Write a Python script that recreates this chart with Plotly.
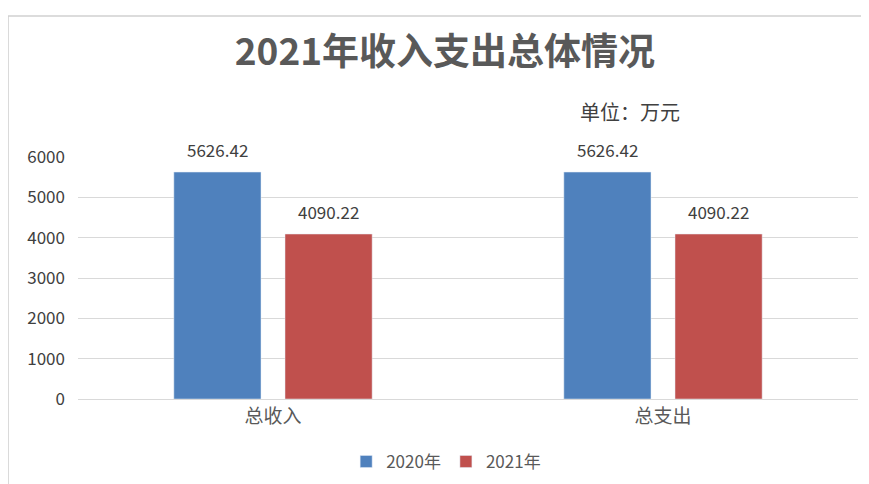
import plotly.graph_objects as go

categories = ["总收入", "总支出"]
series_names = ["2020年", "2021年"]
values_2020 = [5626.42, 5626.42]
values_2021 = [4090.22, 4090.22]
tick_vals = [0, 1000, 2000, 3000, 4000, 5000, 6000]
colors = ["#4F81BD", "#C0504D"]

FONT = "Noto Sans CJK SC"

fig = go.Figure()
for name, vals, col in zip(series_names, [values_2020, values_2021], colors):
    fig.add_trace(go.Bar(x=categories, y=vals, name=name, marker_color=col))

# data labels above each bar (slot offset in pixels for the grouped bars)
annotations = []
slot_px = 111
for i, vals in enumerate([values_2020, values_2021]):
    shift = (i - 0.5) * slot_px
    for cat, v in zip(categories, vals):
        annotations.append(dict(x=cat, y=v, xref="x", yref="y", text=f"{v:.2f}",
                                showarrow=False, xshift=shift, yshift=23,
                                xanchor="center", yanchor="middle",
                                font=dict(size=17, color="#404040", family=FONT)))
annotations.append(dict(text="单位：万元", xref="paper", yref="paper",
                        x=0.708, y=1.186, xanchor="center", yanchor="middle",
                        showarrow=False, font=dict(size=20, color="#404040", family=FONT)))

fig.update_layout(
    width=861, height=476,
    paper_bgcolor="white", plot_bgcolor="white",
    margin=dict(l=70, r=11, t=149, b=85, autoexpand=False),
    barmode="group", bargap=0.43, bargroupgap=0.216,
    font=dict(family=FONT, color="#595959"),
    title=dict(text="<b>2021年收入支出总体情况</b>", x=0.5075, xanchor="center",
               y=0.9076, yanchor="middle",
               font=dict(size=37, color="#595959", family=FONT)),
    legend=dict(orientation="h", x=0.472, xanchor="center", y=-0.26, yanchor="middle",
                font=dict(size=17, color="#595959", family=FONT),
                itemwidth=30, traceorder="normal"),
    annotations=annotations,
    shapes=[
        dict(type="line", xref="paper", yref="paper", x0=-0.095, x1=1.02, y0=1.5826, y1=1.5826,
             line=dict(color="#d0d0d0", width=1.5)),
        dict(type="line", xref="paper", yref="paper", x0=-0.0897, x1=-0.0897, y0=1.5826, y1=-0.36,
             line=dict(color="#d0d0d0", width=1.5)),
    ],
)
fig.update_yaxes(range=[0, 6000], tickvals=tick_vals, showgrid=True, gridcolor="#d9d9d9",
                 zeroline=False, showline=False, ticks="", automargin=False,
                 tickfont=dict(size=17, color="#404040", family=FONT), ticklabelstandoff=12)
fig.update_xaxes(showline=True, linecolor="#d9d9d9", ticks="", automargin=False,
                 tickfont=dict(size=19, color="#595959", family=FONT))

fig.write_html("out.html")
